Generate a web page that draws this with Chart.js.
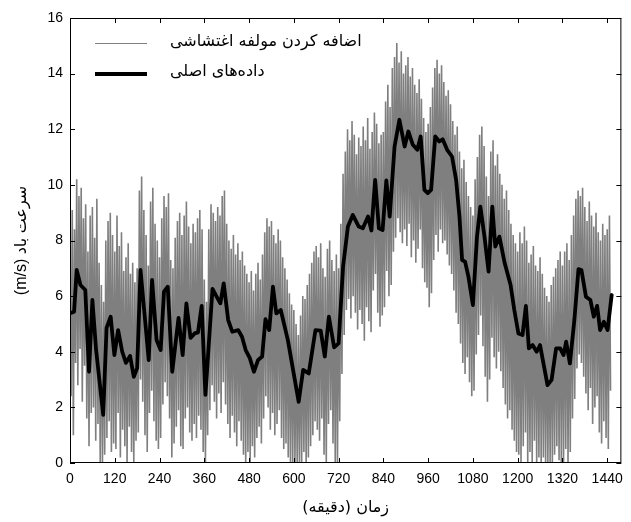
<!DOCTYPE html>
<html lang="fa">
<head>
<meta charset="utf-8">
<script src="https://cdn.jsdelivr.net/npm/chart.js@4.4.1/dist/chart.umd.min.js"></script>
<style>
  html, body { margin: 0; padding: 0; background: #fff; }
</style>
</head>
<body>
<canvas id="windChart" width="631" height="522"></canvas>
<script>
// داده‌های اصلی (خط سیاه) - زمان بر حسب دقیقه و سرعت باد بر حسب m/s
const originalTime = [
  4, 11, 18, 28, 41, 51, 60, 70, 89, 98, 109, 119, 129, 140, 150, 161, 171, 180, 189, 202,
  211, 220, 232, 243, 252, 262, 274, 291, 302, 312, 323, 335, 343, 353, 363, 382, 393, 403, 412, 424,
  435, 451, 461, 471, 482, 493, 504, 515, 524, 534, 544, 553, 565, 584, 613, 625, 640, 658, 672, 683,
  694, 708, 720, 732, 745, 758, 774, 785, 799, 808, 818, 828, 838, 848, 857, 870, 883, 897, 907, 919,
  931, 940, 950, 959, 968, 979, 990, 999, 1011, 1024, 1035, 1044, 1051, 1059, 1068, 1080, 1091, 1100, 1111, 1122,
  1132, 1140, 1151, 1165, 1181, 1191, 1202, 1213, 1222, 1230, 1240, 1251, 1260, 1280, 1291, 1303, 1314, 1323, 1330, 1340,
  1352, 1363, 1371, 1383, 1395, 1404, 1413, 1421, 1431, 1441, 1452
];
const originalSpeed = [
  5.4, 5.44, 6.94, 6.4, 6.22, 3.28, 5.86, 4.06, 1.73, 4.86, 5.26, 3.88, 4.78, 4.0, 3.6, 3.85, 3.1, 3.41, 6.94, 5.03,
  3.7, 6.58, 4.42, 4.06, 6.16, 6.34, 3.28, 5.22, 3.88, 5.74, 4.5, 4.67, 4.69, 5.65, 2.45, 6.26, 5.98, 5.74, 6.46, 5.14,
  4.72, 4.78, 4.54, 4.06, 3.77, 3.28, 3.7, 3.83, 5.17, 4.78, 6.34, 5.38, 5.5, 4.42, 2.2, 3.35, 3.22, 4.78, 4.76, 3.83,
  5.26, 4.16, 4.3, 7.06, 8.5, 8.92, 8.5, 8.44, 8.86, 8.36, 10.18, 8.44, 8.38, 10.16, 8.86, 11.38, 12.34, 11.38, 11.92, 11.44,
  11.26, 11.74, 9.82, 9.7, 9.82, 11.74, 11.56, 11.64, 11.26, 11.02, 10.18, 8.86, 7.3, 7.24, 6.7, 5.68, 8.14, 9.22, 8.14, 6.88,
  9.22, 7.78, 8.14, 7.2, 6.4, 5.5, 4.66, 4.6, 5.65, 4.12, 4.24, 4.0, 4.24, 2.8, 2.99, 4.12, 4.12, 3.88, 4.36, 3.58,
  5.14, 6.97, 6.94, 5.98, 5.86, 5.26, 5.65, 4.78, 5.08, 4.78, 6.04
];

// اضافه کردن مولفه اغتشاشی (خط خاکستری) - یک نمونه هر ۳ دقیقه، هر سطر یک ساعت
const turbulentStep = 3;
const turbulentSpeed = [
  7.2, 2.4, 9.1, 1.0, 8.4, 3.6, 10.2, 2.8, 9.6, 4.1, 9.9, 2.2, 8.8, 3.5, 9.3, 1.6, 7.6, 0.6, 8.9, 1.8,
  9.2, 2.0, 8.1, 0.8, 9.5, 1.4, 7.2, 0.0, 6.4, 0.0, 5.8, 0.3, 8.0, 0.9, 8.7, 1.5, 9.0, 0.4, 8.2, 0.7,
  7.6, 0.5, 8.9, 1.8, 7.8, 0.2, 8.3, 1.2, 6.9, 0.6, 7.4, 0.0, 7.9, 1.3, 6.8, 0.4, 7.2, 0.0, 6.5, 0.8,
  7.0, 1.1, 9.8, 3.0, 10.3, 2.2, 9.1, 1.0, 8.2, 0.4, 7.1, 1.8, 9.4, 2.6, 9.9, 1.5, 8.6, 0.8, 8.0, 0.5,
  7.4, 0.9, 8.8, 2.1, 9.6, 2.9, 9.2, 2.4, 9.7, 1.6, 7.3, 0.2, 7.0, 0.7, 8.1, 1.3, 8.7, 1.9, 9.0, 0.6,
  8.2, 0.5, 8.9, 1.6, 9.4, 2.0, 8.5, 1.1, 7.9, 0.8, 8.6, 1.4, 8.3, 0.9, 8.8, 1.7, 9.1, 1.2, 8.4, 0.4,
  6.6, 0.0, 5.8, 1.0, 8.4, 1.9, 9.3, 2.8, 9.0, 2.2, 8.7, 1.6, 9.2, 2.5, 8.9, 1.8, 9.6, 2.9, 9.8, 2.1,
  8.6, 1.4, 8.0, 0.9, 7.7, 1.7, 8.2, 1.1, 7.5, 0.6, 7.9, 1.5, 7.3, 0.8, 7.6, 0.3, 7.1, 0.0, 6.8, 0.4,
  6.5, 0.0, 6.9, 0.6, 6.2, 0.2, 6.8, 0.9, 7.2, 1.3, 6.6, 0.7, 7.5, 1.6, 8.3, 2.4, 8.8, 2.0, 8.5, 1.2,
  8.7, 1.8, 8.2, 1.0, 7.9, 1.4, 8.4, 1.9, 8.0, 0.9, 7.4, 0.5, 7.0, 0.7, 6.6, 0.2, 6.1, 0.0, 5.7, 0.0,
  5.5, 0.0, 5.0, 0.0, 4.6, 0.0, 5.3, 0.0, 6.0, 0.4, 5.9, 0.0, 6.4, 0.2, 6.8, 0.6, 7.2, 1.0, 7.6, 1.5,
  7.8, 1.2, 7.4, 0.8, 7.9, 1.6, 7.0, 0.3, 6.7, 0.0, 7.7, 1.4, 8.0, 1.9, 7.3, 0.7, 6.9, 0.0, 7.5, 0.0,
  7.0, 1.5, 8.6, 3.2, 10.4, 4.6, 11.2, 5.5, 12.0, 5.9, 11.6, 5.2, 12.3, 6.0, 11.8, 5.4, 11.1, 4.8, 11.7, 5.5,
  11.4, 5.0, 12.1, 4.4, 11.6, 5.6, 12.4, 5.1, 11.3, 4.7, 11.9, 6.2, 12.6, 6.8, 12.2, 5.4, 11.5, 4.9, 11.8, 5.3,
  11.9, 5.6, 13.0, 6.9, 13.6, 6.0, 12.8, 6.4, 14.2, 7.6, 14.6, 8.1, 15.1, 8.8, 14.4, 8.3, 14.8, 7.9, 14.0, 8.4,
  14.3, 7.8, 14.6, 8.6, 13.9, 7.4, 14.2, 8.0, 13.6, 7.2, 13.3, 7.7, 13.8, 8.4, 13.1, 7.0, 12.4, 6.5, 11.9, 6.3,
  12.2, 5.6, 12.8, 6.1, 13.5, 7.3, 14.2, 8.2, 14.5, 7.6, 14.0, 8.4, 14.3, 7.9, 13.7, 8.0, 13.2, 7.5, 13.4, 7.1,
  12.9, 6.8, 12.3, 6.2, 11.8, 5.4, 12.1, 5.0, 11.2, 4.3, 10.6, 3.6, 10.9, 3.2, 10.1, 3.8, 9.6, 2.9, 9.2, 2.4,
  8.9, 2.6, 10.2, 3.9, 11.0, 4.6, 11.8, 5.3, 12.1, 4.2, 11.4, 3.1, 10.3, 2.2, 9.6, 3.0, 11.2, 4.5, 11.6, 3.8,
  10.7, 3.4, 11.1, 4.0, 10.4, 3.3, 10.0, 2.7, 9.5, 2.1, 9.8, 1.6, 9.1, 1.9, 8.6, 1.2, 8.2, 0.8, 7.9, 0.4,
  7.6, 0.3, 8.3, 0.0, 7.9, 0.6, 8.5, 1.1, 8.0, 0.0, 7.2, 0.4, 7.5, 0.0, 7.8, 0.8, 7.1, 0.0, 6.9, 0.2,
  7.4, 0.0, 6.8, 0.2, 6.3, 0.0, 6.0, 0.0, 5.8, 0.0, 6.4, 0.0, 6.7, 0.3, 7.0, 0.6, 7.3, 0.1, 7.6, 0.0,
  7.1, 0.0, 7.6, 0.5, 7.9, 0.0, 7.3, 0.4, 8.2, 1.6, 8.9, 2.3, 9.5, 3.4, 9.8, 3.9, 9.6, 3.6, 9.9, 3.1,
  9.2, 2.5, 8.7, 1.9, 9.4, 2.7, 8.9, 1.4, 8.5, 2.0, 9.0, 2.4, 8.3, 1.1, 8.0, 0.7, 8.6, 1.5, 8.2, 0.9,
  8.4, 0.5, 8.9, 2.6
];

const xTickValues = [0, 120, 240, 360, 480, 600, 720, 840, 960, 1080, 1200, 1320, 1440];
const yTickValues = [0, 2, 4, 6, 8, 10, 12, 14, 16];

const legendTurbulent = "اضافه کردن مولفه اغتشاشی";
const legendOriginal = "داده‌های اصلی";
const xTitle = "زمان (دقیقه)";
const yTitle = "سرعت باد (m/s)";

const numberFamily = "'Liberation Sans', Arial, sans-serif";
const persianFont = "16px 'DejaVu Sans', sans-serif";

// کادر دور نمودار، تیک‌های رو به داخل، عنوان محورها و راهنما
const framePlugin = {
  id: "frame",
  afterDraw(chart) {
    const { ctx, chartArea: a, scales } = chart;
    const tick = 5;
    ctx.save();
    ctx.strokeStyle = "#000";
    ctx.lineWidth = 1;
    ctx.strokeRect(a.left + 0.5, a.top + 0.5, a.right - a.left - 1, a.bottom - a.top - 1);

    ctx.beginPath();
    scales.x.ticks.forEach(t => {
      const px = Math.round(scales.x.getPixelForValue(t.value)) + 0.5;
      ctx.moveTo(px, a.bottom); ctx.lineTo(px, a.bottom - tick);
      ctx.moveTo(px, a.top); ctx.lineTo(px, a.top + tick);
    });
    scales.y.ticks.forEach(t => {
      const py = Math.round(scales.y.getPixelForValue(t.value)) + 0.5;
      ctx.moveTo(a.left, py); ctx.lineTo(a.left + tick, py);
      ctx.moveTo(a.right, py); ctx.lineTo(a.right - tick, py);
    });
    ctx.stroke();

    // راهنما
    const lx0 = a.left + 25, lx1 = a.left + 77;
    ctx.strokeStyle = "#808080";
    ctx.lineWidth = 1;
    ctx.beginPath(); ctx.moveTo(lx0, 43.5); ctx.lineTo(lx1, 43.5); ctx.stroke();
    ctx.strokeStyle = "#000";
    ctx.lineWidth = 4;
    ctx.beginPath(); ctx.moveTo(lx0, 74); ctx.lineTo(lx1, 74); ctx.stroke();

    ctx.fillStyle = "#000";
    ctx.font = persianFont;
    ctx.direction = "rtl";
    ctx.textAlign = "left";
    ctx.textBaseline = "middle";
    ctx.fillText(legendTurbulent, 170, 42);
    ctx.fillText(legendOriginal, 170, 72);

    // عنوان محورها
    ctx.textAlign = "center";
    ctx.fillText(xTitle, (a.left + a.right) / 2, 508);
    ctx.translate(22, (a.top + a.bottom) / 2);
    ctx.rotate(-Math.PI / 2);
    ctx.font = "16px 'Liberation Sans', 'DejaVu Sans', sans-serif";
    ctx.fillText(yTitle, 0, 0);
    ctx.restore();
  }
};

new Chart(document.getElementById("windChart"), {
  type: "line",
  data: {
    datasets: [
      {
        label: legendOriginal,
        data: originalTime.map((t, i) => ({ x: t, y: originalSpeed[i] })),
        borderColor: "#000",
        borderWidth: 3.8,
        borderJoinStyle: "round",
        borderCapStyle: "round",
        pointRadius: 0,
        tension: 0,
        order: 1
      },
      {
        label: legendTurbulent,
        data: turbulentSpeed.map((v, i) => ({ x: i * turbulentStep, y: v })),
        borderColor: "#7f7f7f",
        borderWidth: 1.6,
        pointRadius: 0,
        tension: 0,
        order: 2
      }
    ]
  },
  options: {
    responsive: false,
    animation: false,
    layout: { padding: { top: 18, right: 9, left: 0, bottom: 0 } },
    scales: {
      x: {
        type: "linear",
        min: 0,
        max: 1478,
        afterBuildTicks: s => { s.ticks = xTickValues.map(v => ({ value: v })); },
        afterFit: s => { s.height = 59; },
        grid: { display: false, drawTicks: false },
        border: { display: false },
        ticks: {
          color: "#000", font: { family: numberFamily, size: 14 }, padding: 8,
          maxRotation: 0, autoSkip: false, callback: v => String(v)
        }
      },
      y: {
        min: 0,
        max: 16,
        afterBuildTicks: s => { s.ticks = yTickValues.map(v => ({ value: v })); },
        afterFit: s => { s.width = 70; },
        grid: { display: false, drawTicks: false },
        border: { display: false },
        ticks: { color: "#000", font: { family: numberFamily, size: 14 }, padding: 7, callback: v => String(v) }
      }
    },
    plugins: {
      legend: { display: false },
      tooltip: { enabled: false }
    }
  },
  plugins: [framePlugin]
});
</script>
</body>
</html>
